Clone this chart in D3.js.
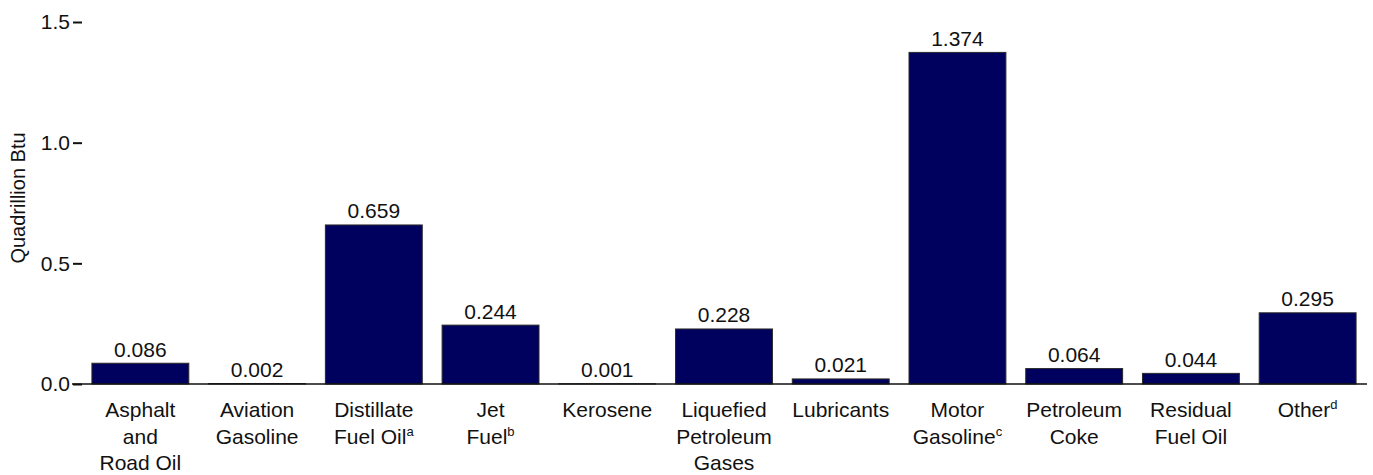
<!DOCTYPE html>
<html>
<head>
<meta charset="utf-8">
<script src="https://cdn.jsdelivr.net/npm/d3@7"></script>
<style>
  html, body { margin: 0; padding: 0; background: #fff; }
  svg text { font-family: "Liberation Sans", Arial, Helvetica, sans-serif; fill: #111; }
</style>
</head>
<body>
<svg id="chart" width="1373" height="475"></svg>
<script>
// ---- Data ----
const categories = ["Asphalt and Road Oil", "Aviation Gasoline", "Distillate Fuel Oil", "Jet Fuel", "Kerosene",
  "Liquefied Petroleum Gases", "Lubricants", "Motor Gasoline", "Petroleum Coke", "Residual Fuel Oil", "Other"];
const categoryLines = [["Asphalt", "and", "Road Oil"], ["Aviation", "Gasoline"], ["Distillate", "Fuel Oil"], ["Jet", "Fuel"],
  ["Kerosene"], ["Liquefied", "Petroleum", "Gases"], ["Lubricants"], ["Motor", "Gasoline"], ["Petroleum", "Coke"],
  ["Residual", "Fuel Oil"], ["Other"]];
const superscripts = ["", "", "a", "b", "", "", "", "c", "", "", "d"];
const values = [0.086, 0.002, 0.659, 0.244, 0.001, 0.228, 0.021, 1.374, 0.064, 0.044, 0.295];
const valueLabels = ["0.086", "0.002", "0.659", "0.244", "0.001", "0.228", "0.021", "1.374", "0.064", "0.044", "0.295"];
const yTicks = [0, 0.5, 1.0, 1.5];
const yTitle = "Quadrillion Btu";

// ---- Layout ----
const svg = d3.select("#chart");
const x = d3.scaleBand().domain(categories).range([82, 1366]).paddingInner(0.17).paddingOuter(0.085);
const y = d3.scaleLinear().domain([0, 1.5]).range([384, 22]);
const cx = d => x(d) + x.bandwidth() / 2;

// bars
svg.append("g").selectAll("rect").data(categories).join("rect")
  .attr("x", d => x(d))
  .attr("y", (d, i) => y(values[i]))
  .attr("width", x.bandwidth())
  .attr("height", (d, i) => y(0) - y(values[i]))
  .attr("fill", "#00005e")
  .attr("stroke", "#2a2a2a")
  .attr("stroke-width", 1);

// value labels
svg.append("g").selectAll("text").data(categories).join("text")
  .attr("x", cx)
  .attr("y", (d, i) => y(values[i]) - 6.5)
  .attr("text-anchor", "middle")
  .style("font-size", "21px")
  .text((d, i) => valueLabels[i]);

// baseline
svg.append("line")
  .attr("x1", 72).attr("x2", 1367)
  .attr("y1", y(0)).attr("y2", y(0))
  .attr("stroke", "#111").attr("stroke-width", 1.6);

// y axis
const yAxis = d3.axisLeft(y).tickValues(yTicks).tickFormat(d3.format(".1f")).tickSize(9).tickPadding(3);
const gy = svg.append("g").attr("transform", "translate(82,0)").call(yAxis);
gy.select(".domain").remove();
gy.selectAll(".tick line").attr("stroke", "#111").attr("stroke-width", 2);
gy.selectAll(".tick text")
  .style("font-size", "21px")
  .style("font-family", "'Liberation Sans', Arial, sans-serif")
  .attr("fill", "#111");

// y title
svg.append("text")
  .attr("transform", "translate(25,198) rotate(-90)")
  .attr("text-anchor", "middle")
  .style("font-size", "20px")
  .text(yTitle);

// category labels
const lineGap = 26.5;
const firstBaseline = 417;
const cat = svg.append("g").selectAll("text").data(categories).join("text")
  .attr("text-anchor", "middle")
  .style("font-size", "21px");
cat.each(function(d, i) {
  const t = d3.select(this);
  const lines = categoryLines[i];
  lines.forEach((ln, j) => {
    const ts = t.append("tspan")
      .attr("x", cx(d))
      .attr("y", firstBaseline + j * lineGap);
    ts.append("tspan").text(ln);
    if (j === lines.length - 1 && superscripts[i]) {
      ts.append("tspan").attr("dy", -8).style("font-size", "13px").text(superscripts[i]);
    }
  });
});
</script>
</body>
</html>
